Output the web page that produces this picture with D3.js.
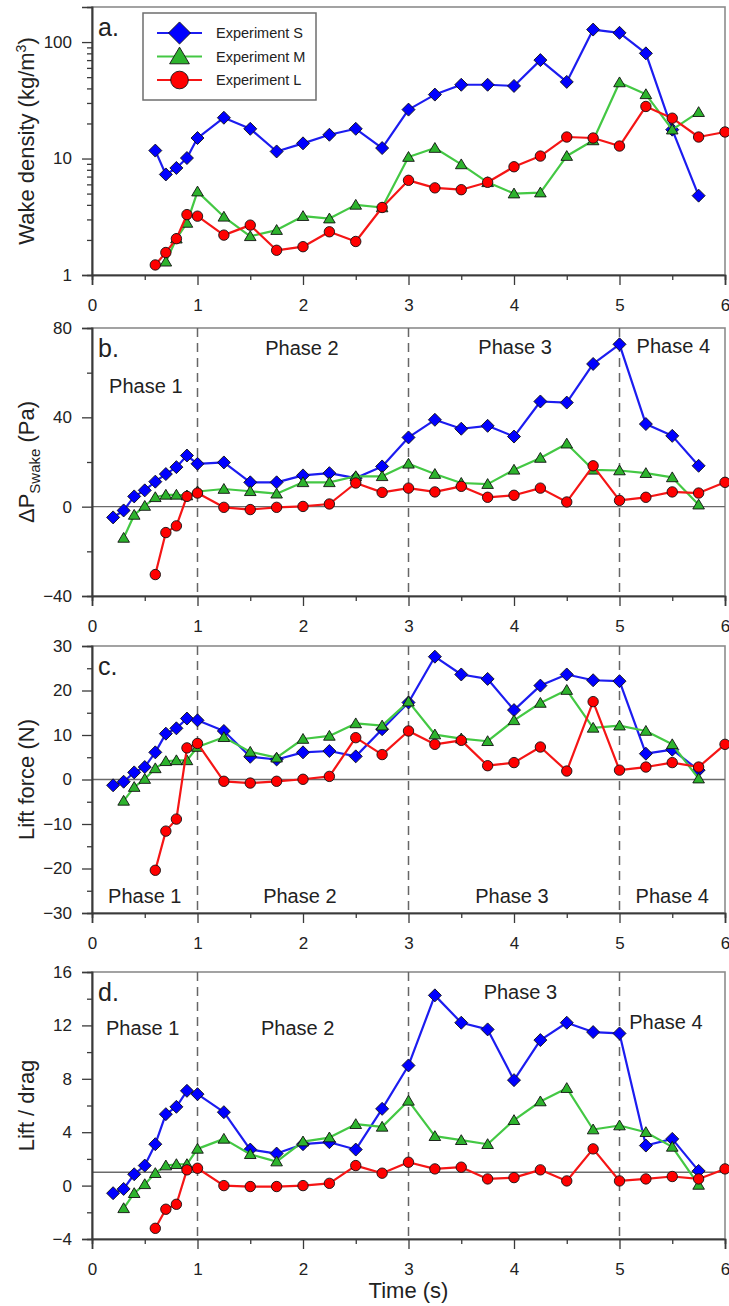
<!DOCTYPE html>
<html>
<head>
<meta charset="utf-8">
<script src="https://cdnjs.cloudflare.com/ajax/libs/d3/7.8.5/d3.min.js"></script>
<style>
  body { margin: 0; background: #fff; }
  svg text { font-family: "Liberation Sans", Arial, sans-serif; fill: #222; }
</style>
</head>
<body>
<div class="chart"></div>
<script>
// sampling times (s)
var timeA_S = [0.6, 0.7, 0.8, 0.9, 1, 1.25, 1.5, 1.75, 2, 2.25, 2.5, 2.75, 3, 3.25, 3.5, 3.75, 4, 4.25, 4.5, 4.75, 5, 5.25, 5.5, 5.75];
var timeA_M = [0.7, 0.8, 0.9, 1, 1.25, 1.5, 1.75, 2, 2.25, 2.5, 2.75, 3, 3.25, 3.5, 3.75, 4, 4.25, 4.5, 4.75, 5, 5.25, 5.5, 5.75];
var timeS = [0.2, 0.3, 0.4, 0.5, 0.6, 0.7, 0.8, 0.9, 1, 1.25, 1.5, 1.75, 2, 2.25, 2.5, 2.75, 3, 3.25, 3.5, 3.75, 4, 4.25, 4.5, 4.75, 5, 5.25, 5.5, 5.75];
var timeM = [0.3, 0.4, 0.5, 0.6, 0.7, 0.8, 0.9, 1, 1.25, 1.5, 1.75, 2, 2.25, 2.5, 2.75, 3, 3.25, 3.5, 3.75, 4, 4.25, 4.5, 4.75, 5, 5.25, 5.5, 5.75];
var timeL = [0.6, 0.7, 0.8, 0.9, 1, 1.25, 1.5, 1.75, 2, 2.25, 2.5, 2.75, 3, 3.25, 3.5, 3.75, 4, 4.25, 4.5, 4.75, 5, 5.25, 5.5, 5.75, 6];

// a. wake density (kg/m3)
var densityS = [11.7, 7.3, 8.3, 10.1, 15, 22.4, 18, 11.5, 13.5, 16, 18, 12.3, 26.3, 35.4, 43, 43, 42, 70, 45.5, 128, 120, 80, 17.7, 4.8];
var densityM = [1.3, 2.05, 2.8, 5.2, 3.16, 2.15, 2.43, 3.2, 3.05, 4.0, 3.8, 10.3, 12.3, 8.9, 6.25, 5.0, 5.1, 10.5, 14.3, 45, 35.6, 17.7, 25];
var densityL = [1.22, 1.56, 2.05, 3.3, 3.2, 2.2, 2.68, 1.63, 1.75, 2.35, 1.94, 3.8, 6.5, 5.6, 5.4, 6.25, 8.5, 10.5, 15.3, 15, 12.8, 28, 22.2, 15.3, 16.9];

// b. delta P Swake (Pa)
var pressureS = [-4.8, -1.7, 4.6, 7.3, 11.2, 14.6, 17.7, 22.9, 19.2, 19.8, 10.9, 10.9, 14, 15, 12.8, 18, 31, 38.9, 34.9, 36.2, 31.4, 47.1, 46.6, 63.9, 72.7, 37, 31.7, 18.3];
var pressureM = [-14, -3.7, 0.3, 4.2, 5.3, 5.3, 5.0, 6.8, 7.9, 6.9, 5.8, 10.9, 10.9, 13.6, 13.6, 19.2, 14.6, 10.6, 10.1, 16.5, 21.8, 28.2, 16.5, 16.2, 15, 13.1, 0.9];
var pressureL = [-30.4, -11.6, -8.6, 4.6, 6.1, -0.3, -1.3, -0.3, 0.1, 1.2, 10.6, 6.4, 8.3, 6.6, 9.1, 4.2, 5.1, 8.3, 2.1, 18.3, 2.8, 4.2, 6.6, 6.1, 10.9];

// c. lift force (N)
var liftS = [-1.3, -0.5, 1.6, 2.8, 6.1, 10.3, 11.5, 13.7, 13.3, 10.9, 5.1, 4.5, 6.1, 6.4, 5.2, 11.3, 17.3, 27.6, 23.6, 22.6, 15.6, 21.1, 23.6, 22.3, 22.1, 5.8, 6.7, 2.1];
var liftM = [-4.8, -1.7, 0.1, 2.5, 4.1, 4.3, 4.3, 7.3, 9.5, 6.2, 4.9, 9.1, 9.8, 12.6, 12.1, 17.5, 10.1, 9.2, 8.6, 13.3, 17.2, 20.1, 11.6, 12.1, 10.9, 7.9, 0.2];
var liftL = [-20.4, -11.6, -8.9, 7.1, 8.1, -0.4, -0.8, -0.4, 0.05, 0.7, 9.4, 5.6, 10.9, 7.9, 8.8, 3.1, 3.8, 7.3, 1.9, 17.5, 2.1, 2.8, 3.8, 2.8, 7.9];

// d. lift / drag
var ratioS = [-0.57, -0.25, 0.85, 1.5, 3.1, 5.35, 5.9, 7.1, 6.85, 5.5, 2.7, 2.4, 3.1, 3.25, 2.7, 5.75, 9.0, 14.25, 12.2, 11.7, 7.9, 10.9, 12.2, 11.5, 11.4, 3.0, 3.5, 1.1];
var ratioM = [-1.7, -0.57, 0.1, 0.93, 1.5, 1.6, 1.6, 2.75, 3.5, 2.35, 1.8, 3.3, 3.6, 4.6, 4.4, 6.35, 3.7, 3.4, 3.1, 4.9, 6.3, 7.3, 4.2, 4.5, 4.0, 2.9, 0.05];
var ratioL = [-3.2, -1.77, -1.4, 1.18, 1.3, 0, -0.07, -0.07, 0, 0.17, 1.5, 0.93, 1.75, 1.25, 1.38, 0.5, 0.6, 1.18, 0.35, 2.75, 0.35, 0.5, 0.68, 0.5, 1.25];

var seriesNames = ["Experiment S", "Experiment M", "Experiment L"];
var phaseNames = ["Phase 1", "Phase 2", "Phase 3", "Phase 4"];
var phaseBounds = [1, 3, 5];
var xMajor = [0, 1, 2, 3, 4, 5, 6];
var xMinor = [0.5, 1.5, 2.5, 3.5, 4.5, 5.5];

var styles = [
  {line: "#1c1cf0", fill: "#0000ff", shape: "diamond"},
  {line: "#44c844", fill: "#2db32d", shape: "triangle"},
  {line: "#f51515", fill: "#ff0000", shape: "circle"}
];

var width = 729, height = 1306;
var left = 92, right = 725;

var svg = d3.select(".chart").append("svg")
            .attr("width", width)
            .attr("height", height);

var x = d3.scaleLinear().domain([0, 6]).range([left, right]);

function pairs(ts, vs) {
  return ts.map(function(t, i) { return {t: t, v: vs[i]}; });
}

function markerPath(shape, big) {
  var k = big ? 1.7 : 1;
  if (shape == "diamond") return "M0," + (-6.5 * k) + "L" + (6.5 * k) + ",0L0," + (6.5 * k) + "L" + (-6.5 * k) + ",0Z";
  if (shape == "triangle") return "M0," + (-5.5 * k) + "L" + (5.8 * k) + "," + (4.3 * k) + "L" + (-5.8 * k) + "," + (4.3 * k) + "Z";
  var r = 5.2 * k;
  return "M" + r + ",0A" + r + "," + r + " 0 1,1 " + (-r) + ",0A" + r + "," + r + " 0 1,1 " + r + ",0Z";
}

function styleAxis(g) {
  g.attr("font-size", 17).attr("font-family", "Liberation Sans, Arial, sans-serif");
  g.select(".domain").attr("stroke", "#3a3a3a").attr("stroke-width", 1.6);
  g.selectAll(".tick line").attr("stroke", "#3a3a3a").attr("stroke-width", 1.3);
  g.selectAll(".tick text").attr("fill", "#222");
}

function drawPanel(p) {
  var y = p.log ? d3.scaleLog() : d3.scaleLinear();
  y.domain(p.domain).range([p.bottom, p.top]);

  var g = svg.append("g");

  // frame (top & right are lighter)
  g.append("rect")
   .attr("x", left).attr("y", p.top)
   .attr("width", right - left).attr("height", p.bottom - p.top)
   .attr("fill", "none").attr("stroke", "#8c8c8c").attr("stroke-width", 1.6);

  if (p.ref != null) {
    g.append("line")
     .attr("x1", left).attr("x2", right)
     .attr("y1", y(p.ref)).attr("y2", y(p.ref))
     .attr("stroke", "#6a6a6a").attr("stroke-width", 1.4);
  }

  if (p.phases) {
    g.selectAll(".phaseline").data(phaseBounds).enter().append("line")
     .attr("x1", function(d) { return x(d); }).attr("x2", function(d) { return x(d); })
     .attr("y1", p.top).attr("y2", p.bottom)
     .attr("stroke", "#666").attr("stroke-width", 1.5)
     .attr("stroke-dasharray", "9,6");
  }

  // x axis
  var xm = g.append("g").attr("transform", "translate(0," + p.bottom + ")")
            .call(d3.axisBottom(x).tickValues(xMinor).tickSize(5).tickFormat(""));
  styleAxis(xm);
  var xa = g.append("g").attr("transform", "translate(0," + p.bottom + ")")
            .call(d3.axisBottom(x).tickValues(xMajor).tickSize(10).tickPadding(14).tickFormat(d3.format("d")));
  styleAxis(xa);

  // y axis
  var ym = g.append("g").attr("transform", "translate(" + left + ",0)")
            .call(d3.axisLeft(y).tickValues(p.minor).tickSize(5).tickFormat(""));
  styleAxis(ym);
  var ya = g.append("g").attr("transform", "translate(" + left + ",0)")
            .call(d3.axisLeft(y).tickValues(p.major).tickSize(10).tickPadding(10).tickFormat(d3.format("d")));
  styleAxis(ya);

  var line = d3.line()
               .x(function(d) { return x(d.t); })
               .y(function(d) { return y(d.v); });

  p.series.forEach(function(s, i) {
    var data = pairs(s[0], s[1]);
    g.append("path")
     .datum(data)
     .attr("fill", "none")
     .attr("stroke", styles[i].line)
     .attr("stroke-width", 2.2)
     .attr("stroke-linejoin", "round")
     .attr("d", line);
    g.selectAll(".m" + i)
     .data(data)
     .enter().append("path")
     .attr("class", "m" + i)
     .attr("transform", function(d) { return "translate(" + x(d.t) + "," + y(d.v) + ")"; })
     .attr("d", markerPath(styles[i].shape, false))
     .attr("fill", styles[i].fill)
     .attr("stroke", "#111")
     .attr("stroke-width", 0.9);
  });

  // panel letter
  g.append("text")
   .attr("x", left + 6).attr("y", p.top + 29)
   .attr("font-size", 25)
   .text(p.letter);

  // phase labels
  if (p.phaseAt) {
    p.phaseAt.forEach(function(q, i) {
      g.append("text")
       .attr("x", x(q[0])).attr("y", y(q[1]))
       .attr("text-anchor", "middle")
       .attr("font-size", 20)
       .text(phaseNames[i]);
    });
  }

  // y title
  var title = g.append("text")
               .attr("transform", "translate(34," + ((p.top + p.bottom) / 2) + ") rotate(-90)")
               .attr("text-anchor", "middle")
               .attr("font-size", 22);
  p.title(title);

  return g;
}

// panel a
var ga = drawPanel({
  letter: "a.", top: 7, bottom: 275, log: true, domain: [1, 200],
  major: [1, 10, 100],
  minor: [2, 3, 4, 5, 6, 7, 8, 9, 20, 30, 40, 50, 60, 70, 80, 90],
  series: [[timeA_S, densityS], [timeA_M, densityM], [timeL, densityL]],
  title: function(t) {
    t.append("tspan").text("Wake density (kg/m");
    t.append("tspan").attr("font-size", 14).attr("dy", -8).text("3");
    t.append("tspan").attr("dy", 8).text(")");
  }
});

// legend
var legend = ga.append("g").attr("transform", "translate(143,13)");
legend.append("rect")
      .attr("width", 173).attr("height", 87)
      .attr("fill", "#fff").attr("stroke", "#6e6e6e").attr("stroke-width", 1.5);
seriesNames.forEach(function(name, i) {
  var ly = 20 + i * 23.5;
  legend.append("line")
        .attr("x1", 14).attr("x2", 59).attr("y1", ly).attr("y2", ly)
        .attr("stroke", styles[i].line).attr("stroke-width", 2.2);
  legend.append("path")
        .attr("transform", "translate(36.5," + ly + ")")
        .attr("d", markerPath(styles[i].shape, true))
        .attr("fill", styles[i].fill).attr("stroke", "#111").attr("stroke-width", 0.9);
  legend.append("text")
        .attr("x", 73).attr("y", ly + 5)
        .attr("font-size", 14.5)
        .text(name);
});

// panel b
drawPanel({
  letter: "b.", top: 328, bottom: 596, domain: [-40, 80],
  major: [-40, 0, 40, 80], minor: [-20, 20, 60],
  ref: 0, phases: true,
  phaseAt: [[0.51, 51], [1.99, 68], [4.01, 68.5], [5.51, 69]],
  series: [[timeS, pressureS], [timeM, pressureM], [timeL, pressureL]],
  title: function(t) {
    t.append("tspan").text("\u0394P");
    t.append("tspan").attr("font-size", 15).attr("dy", 6).text("Swake");
    t.append("tspan").attr("dy", -6).text(" (Pa)");
  }
});

// panel c
drawPanel({
  letter: "c.", top: 646, bottom: 913, domain: [-30, 30],
  major: [-30, -20, -10, 0, 10, 20, 30], minor: [-25, -15, -5, 5, 15, 25],
  ref: 0, phases: true,
  phaseAt: [[0.5, -27.8], [1.97, -27.8], [3.98, -27.8], [5.5, -27.8]],
  series: [[timeS, liftS], [timeM, liftM], [timeL, liftL]],
  title: function(t) { t.text("Lift force (N)"); }
});

// panel d
drawPanel({
  letter: "d.", top: 972, bottom: 1239, domain: [-4, 16],
  major: [-4, 0, 4, 8, 12, 16], minor: [-2, 2, 6, 10, 14],
  ref: 1, phases: true,
  phaseAt: [[0.48, 11.3], [1.95, 11.3], [4.06, 14.0], [5.44, 11.7]],
  series: [[timeS, ratioS], [timeM, ratioM], [timeL, ratioL]],
  title: function(t) { t.text("Lift / drag"); }
});

svg.append("text")
   .attr("x", x(3)).attr("y", 1298)
   .attr("text-anchor", "middle")
   .attr("font-size", 22)
   .text("Time (s)");
</script>
</body>
</html>
